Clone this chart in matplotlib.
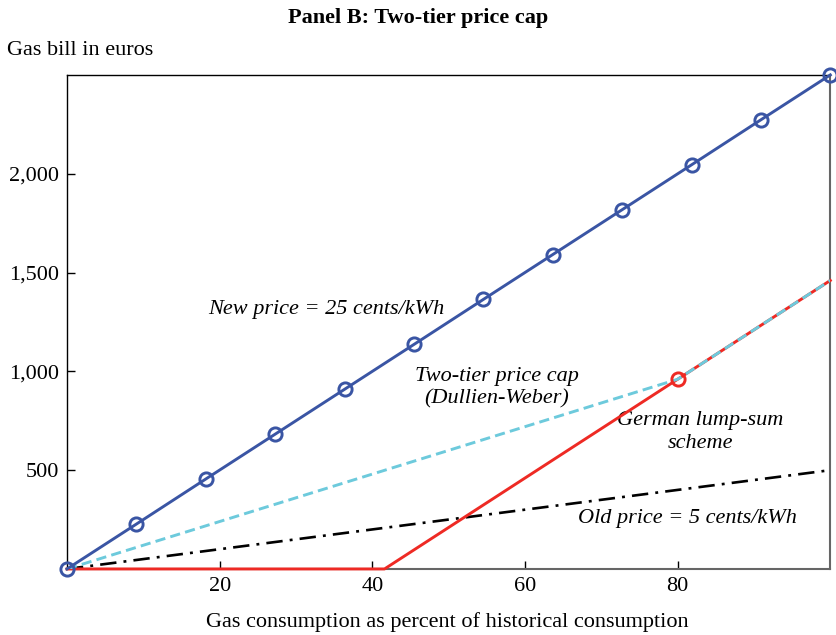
import matplotlib
matplotlib.use("Agg")
import matplotlib.pyplot as plt
from matplotlib.ticker import FuncFormatter

plt.rcParams['font.family'] = ['Liberation Serif', 'DejaVu Serif']

# Data
new_x = [0, 9.09, 18.18, 27.27, 36.36, 45.45, 54.55, 63.64, 72.73, 81.82, 90.91, 100]
new_y = [0, 227, 455, 682, 909, 1136, 1364, 1591, 1818, 2045, 2273, 2500]
old_x = [0, 100]
old_y = [0, 500]
cap_x = [0, 80, 100]
cap_y = [0, 960, 1460]
lump_x = [0, 41.6, 80, 100]
lump_y = [0, 0, 960, 1460]
lump_marker_x = [80]
lump_marker_y = [960]
x_ticks = [20, 40, 60, 80]
y_ticks = [500, 1000, 1500, 2000]

BLUE = '#3a55a4'
CYAN = '#6dcadc'
RED = '#ee2a24'

fig = plt.figure(figsize=(8.37, 6.35), dpi=100)
ax = fig.add_axes([0.080, 0.104, 0.912, 0.778])

ax.plot(old_x, old_y, color='black', lw=1.9, dashes=(6.2, 2.7, 1.1, 2.7), zorder=3)
ax.plot(lump_x, lump_y, color=RED, lw=2.1, clip_on=False, zorder=4)
ax.plot(cap_x, cap_y, color=CYAN, lw=2.1, dashes=(3.5, 1.8), zorder=5)
ax.plot(lump_marker_x, lump_marker_y, 'o', color=RED, mfc='none', ms=9.5, mew=2.1, zorder=6)
ax.plot(new_x, new_y, color=BLUE, lw=2.1, marker='o', mfc='none', ms=9.5, mew=2.1,
        clip_on=False, zorder=7)

ax.set_xlim(0, 100)
ax.set_ylim(0, 2500)
ax.set_xticks(x_ticks)
ax.set_yticks(y_ticks)
ax.yaxis.set_major_formatter(FuncFormatter(lambda v, p: f'{int(v):,}'))
ax.tick_params(direction='in', length=6, width=1, labelsize=16, pad=6)
ax.tick_params(top=False, right=False)
for s in ['left', 'top']:
    ax.spines[s].set_color('black')
    ax.spines[s].set_linewidth(1.0)
for s in ['right', 'bottom']:
    ax.spines[s].set_color('#666666')
    ax.spines[s].set_linewidth(1.5)

fs = 16
ax.text(34, 1313, 'New price = 25 cents/kWh', style='italic', fontsize=fs, ha='center', va='center')
ax.text(56.3, 917, 'Two-tier price cap\n(Dullien-Weber)', style='italic', fontsize=fs,
        ha='center', va='center', linespacing=1.2)
ax.text(83, 694, 'German lump-sum\nscheme', style='italic', fontsize=fs,
        ha='center', va='center', linespacing=1.3)
ax.text(81.3, 253, 'Old price = 5 cents/kWh', style='italic', fontsize=fs, ha='center', va='center')

fig.text(0.5, 0.972, 'Panel B: Two-tier price cap', fontsize=16, fontweight='bold',
         ha='center', va='center')
fig.text(0.008, 0.921, 'Gas bill in euros', fontsize=16, ha='left', va='center')
fig.text(0.534, 0.020, 'Gas consumption as percent of historical consumption', fontsize=16,
         ha='center', va='center')

fig.savefig('out.png', dpi=100)
